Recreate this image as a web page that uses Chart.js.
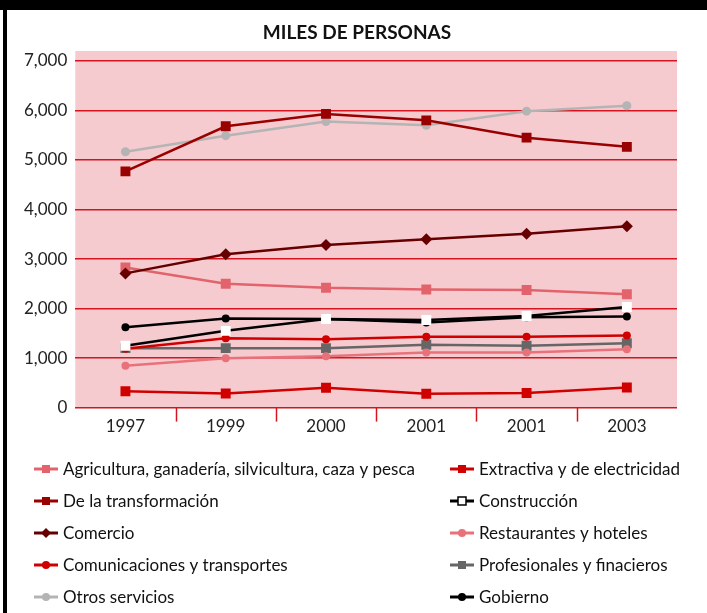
<!DOCTYPE html>
<html>
<head>
<meta charset="utf-8">
<script src="https://cdn.jsdelivr.net/npm/chart.js@4.4.1/dist/chart.umd.min.js"></script>
<style>
html,body{margin:0;padding:0;background:#fff;}
canvas{display:block;}
</style>
</head>
<body>
<canvas id="c" width="707" height="613"></canvas>
<script>
const TITLE = 'MILES DE PERSONAS';
const categories = ['1997', '1999', '2000', '2001', '2001', '2003'];
const yTicks = [0, 1000, 2000, 3000, 4000, 5000, 6000, 7000];

const seriesNames = [
  'Agricultura, ganadería, silvicultura, caza y pesca',
  'Extractiva y de electricidad',
  'De la transformación',
  'Construcción',
  'Comercio',
  'Restaurantes y hoteles',
  'Comunicaciones y transportes',
  'Profesionales y finacieros',
  'Otros servicios',
  'Gobierno'
];

const agricultura     = [2830, 2500, 2420, 2385, 2375, 2290];
const extractiva      = [330, 285, 400, 280, 295, 405];
const transformacion  = [4770, 5680, 5930, 5800, 5450, 5265];
const construccion    = [1250, 1550, 1790, 1770, 1850, 2030];
const comercio        = [2710, 3095, 3285, 3400, 3510, 3660];
const restaurantes    = [845, 995, 1035, 1110, 1110, 1180];
const comunicaciones  = [1190, 1400, 1380, 1430, 1430, 1455];
const profesionales   = [1200, 1200, 1200, 1270, 1250, 1300];
const otros           = [5165, 5490, 5775, 5700, 5985, 6095];
const gobierno        = [1620, 1800, 1790, 1720, 1825, 1840];

const seriesValues = [agricultura, extractiva, transformacion, construccion, comercio,
  restaurantes, comunicaciones, profesionales, otros, gobierno];

const styles = [
  {color: '#e2636c', point: 'rect', r: 7, fill: '#e2636c', lborder: '#e2636c', order: 1},
  {color: '#d10000', point: 'rect', r: 7, fill: '#d10000', lborder: '#d10000', order: 1},
  {color: '#990000', point: 'rect', r: 7, fill: '#990000', lborder: '#990000', order: 1},
  {color: '#000000', point: 'rect', r: 7, fill: '#ffffff', pborder: '#ffffff', lborder: '#000000', order: 0},
  {color: '#660000', point: 'rectRot', r: 6, fill: '#660000', lborder: '#660000', order: 0},
  {color: '#e8717a', point: 'circle', r: 4, fill: '#e8717a', lborder: '#e8717a', order: 1},
  {color: '#d10000', point: 'circle', r: 4, fill: '#d10000', lborder: '#d10000', order: 1},
  {color: '#666666', point: 'rect', r: 7, fill: '#666666', lborder: '#666666', order: 1},
  {color: '#b4b4b4', point: 'circle', r: 4.5, fill: '#b4b4b4', lborder: '#b4b4b4', order: 1},
  {color: '#000000', point: 'circle', r: 4, fill: '#000000', lborder: '#000000', order: 1}
];

const FONT = 'Lato, "Open Sans", sans-serif';
const GRID_RED = '#d4151f';

const datasets = seriesNames.map((name, i) => ({
  label: name,
  data: seriesValues[i],
  order: styles[i].order,
  borderColor: styles[i].color,
  backgroundColor: styles[i].fill,
  borderWidth: 2.5,
  pointStyle: styles[i].point,
  pointRadius: styles[i].r,
  pointHoverRadius: styles[i].r,
  pointBackgroundColor: styles[i].fill,
  pointBorderColor: styles[i].pborder || styles[i].fill,
  pointBorderWidth: 0,
  tension: 0,
  fill: false
}));

const framePlugin = {
  id: 'frame',
  beforeDraw(chart) {
    const ctx = chart.ctx;
    const a = chart.chartArea;
    ctx.save();
    ctx.fillStyle = '#ffffff';
    ctx.fillRect(0, 0, chart.width, chart.height);
    ctx.fillStyle = '#f6cbcf';
    ctx.fillRect(a.left, a.top, a.right - a.left, a.bottom - a.top);
    ctx.fillStyle = '#000000';
    ctx.fillRect(0, 0, chart.width, 10);
    ctx.fillRect(3, 10, 4, chart.height - 10);
    // x tick marks between categories
    const xs = chart.scales.x;
    ctx.strokeStyle = GRID_RED;
    ctx.lineWidth = 1.5;
    for (let i = 1; i < categories.length; i++) {
      const px = Math.round((xs.getPixelForTick(i - 1) + xs.getPixelForTick(i)) / 2) + 0.5;
      ctx.beginPath();
      ctx.moveTo(px, a.bottom);
      ctx.lineTo(px, a.bottom + 14);
      ctx.stroke();
    }
    ctx.restore();
  },
  afterDraw(chart) {
    const ctx = chart.ctx;
    ctx.save();
    // title
    ctx.fillStyle = '#111111';
    ctx.font = 'bold 19px ' + FONT;
    ctx.textAlign = 'center';
    ctx.textBaseline = 'middle';
    ctx.fillText(TITLE, 357, 33);
    // legend (2 columns)
    const colX = [34, 450];
    const rowY0 = 469, rowH = 32;
    ctx.font = '17px ' + FONT;
    ctx.textAlign = 'left';
    chart.data.datasets.forEach((ds, i) => {
      const col = i % 2, row = Math.floor(i / 2);
      const x = colX[col], y = rowY0 + row * rowH;
      const st = styles[i];
      ctx.strokeStyle = st.color;
      ctx.lineWidth = 3;
      ctx.beginPath();
      ctx.moveTo(x, y);
      ctx.lineTo(x + 24, y);
      ctx.stroke();
      const cx = x + 12;
      ctx.fillStyle = st.fill;
      ctx.strokeStyle = st.lborder;
      ctx.lineWidth = 1.5;
      ctx.beginPath();
      if (st.point === 'rect') {
        ctx.rect(cx - 4, y - 4, 8, 8);
        ctx.fill();
        if (st.fill === '#ffffff') ctx.stroke();
      } else if (st.point === 'rectRot') {
        ctx.moveTo(cx, y - 5);
        ctx.lineTo(cx + 5, y);
        ctx.lineTo(cx, y + 5);
        ctx.lineTo(cx - 5, y);
        ctx.closePath();
        ctx.fill();
      } else {
        ctx.arc(cx, y, 4, 0, Math.PI * 2);
        ctx.fill();
      }
      ctx.fillStyle = '#111111';
      ctx.textBaseline = 'middle';
      ctx.fillText(ds.label, x + 29, y + 1);
    });
    ctx.restore();
  }
};

new Chart(document.getElementById('c'), {
  type: 'line',
  data: { labels: categories, datasets: datasets },
  options: {
    responsive: false,
    animation: false,
    devicePixelRatio: 1,
    layout: { padding: { top: 51, left: 16, right: 30, bottom: 181 } },
    plugins: {
      legend: { display: false },
      title: { display: false },
      tooltip: { enabled: false }
    },
    scales: {
      x: {
        type: 'category',
        offset: true,
        border: { display: false },
        grid: { display: true, drawOnChartArea: false, drawTicks: true, tickLength: 14, color: 'rgba(0,0,0,0)' },
        ticks: { color: '#222222', font: { family: FONT, size: 17 }, padding: -5, autoSkip: false, maxRotation: 0 }
      },
      y: {
        min: 0,
        max: 7200,
        border: { display: false },
        grid: { color: GRID_RED, lineWidth: 1.5, drawTicks: false },
        afterBuildTicks(scale) { scale.ticks = yTicks.map(v => ({ value: v })); },
        ticks: {
          color: '#222222',
          font: { family: FONT, size: 17 },
          padding: 8,
          callback: (v) => Number(v).toLocaleString('en-US')
        }
      }
    }
  },
  plugins: [framePlugin]
});
</script>
</body>
</html>
